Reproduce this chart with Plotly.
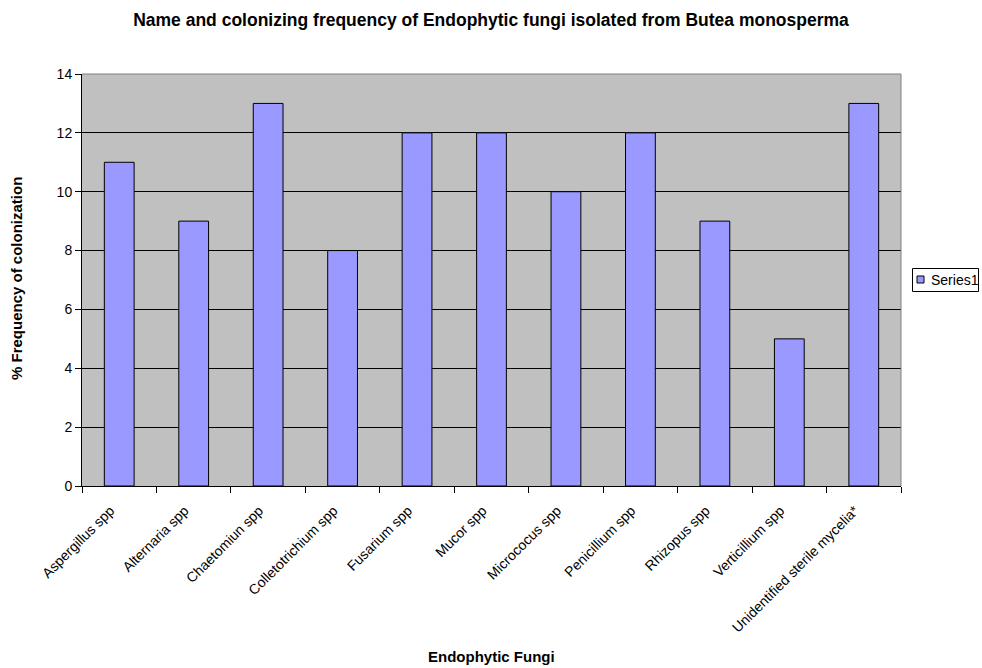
import plotly.graph_objects as go

categories = ["Aspergillus spp", "Alternaria spp", "Chaetomiun spp", "Colletotrichium spp",
              "Fusarium spp", "Mucor spp", "Micrococus spp", "Penicillium spp",
              "Rhizopus spp", "Verticillium spp", "Unidentified sterile mycelia*"]
values = [11, 9, 13, 8, 12, 12, 10, 12, 9, 5, 13]
y_ticks = [0, 2, 4, 6, 8, 10, 12, 14]
series_name = "Series1"

W, H = 982, 668
L, R, T, B = 82, 81, 74, 182
PW, PH = W - L - R, H - T - B


def px(x):
    return (x - L) / PW


def py(y):
    return (H - B - y) / PH


FONT = "Arial, Liberation Sans, sans-serif"
BAR_COLOR = "#9999ff"

fig = go.Figure()
fig.add_trace(go.Bar(
    x=categories, y=values, name=series_name, width=0.4, showlegend=False,
    marker=dict(color=BAR_COLOR, line=dict(color="black", width=1)),
))

fig.update_layout(
    width=W, height=H,
    margin=dict(l=L, r=R, t=T, b=B),
    paper_bgcolor="white", plot_bgcolor="#c0c0c0",
    font=dict(family=FONT, size=14, color="black"),
    title=dict(text="<b>Name and colonizing frequency of Endophytic fungi isolated from Butea monosperma</b>",
               x=0.5, xanchor="center", y=1 - 20 / H, yanchor="middle",
               font=dict(size=17.5)),
    showlegend=False,
)
fig.update_xaxes(
    type="category", tickson="boundaries", ticks="outside", ticklen=6, tickcolor="black",
    tickangle=-45, showline=True, linecolor="black", linewidth=1, showgrid=False,
    automargin=False, tickfont=dict(size=14), ticklabelstandoff=10, ticklabelshift=-9,
)
fig.update_yaxes(
    range=[0, 14], tickvals=y_ticks, ticks="outside", ticklen=6, tickcolor="black",
    showline=True, linecolor="black", linewidth=1, showgrid=True, gridcolor="black", gridwidth=1,
    zeroline=False, automargin=False, tickfont=dict(size=14),
)
# gray border on top/right of plot area
fig.add_shape(type="line", xref="paper", yref="paper", x0=0, y0=1, x1=1, y1=1,
              line=dict(color="#808080", width=1))
fig.add_shape(type="line", xref="paper", yref="paper", x0=1, y0=0, x1=1, y1=1,
              line=dict(color="#808080", width=1))

# axis titles
fig.add_annotation(text="<b>Endophytic Fungi</b>", xref="paper", yref="paper",
                   x=0.5, y=py(666), xanchor="center", yanchor="bottom",
                   showarrow=False, font=dict(size=15), borderpad=0)
fig.add_annotation(text="<b>% Frequency of colonization</b>", xref="paper", yref="paper",
                   x=px(16), y=py(279), xanchor="center", yanchor="middle", textangle=-90,
                   showarrow=False, font=dict(size=15))

# legend box (Excel style)
fig.add_shape(type="rect", xref="paper", yref="paper", x0=px(912.5), x1=px(978.5),
              y0=py(291.5), y1=py(268.5), line=dict(color="black", width=1), fillcolor="white")
fig.add_shape(type="rect", xref="paper", yref="paper", x0=px(917), x1=px(924),
              y0=py(283), y1=py(276), line=dict(color="black", width=1), fillcolor=BAR_COLOR)
fig.add_annotation(text=series_name, xref="paper", yref="paper", x=px(929), y=py(280),
                   xanchor="left", yanchor="middle", showarrow=False, font=dict(size=14))

fig.write_html("out.html")
